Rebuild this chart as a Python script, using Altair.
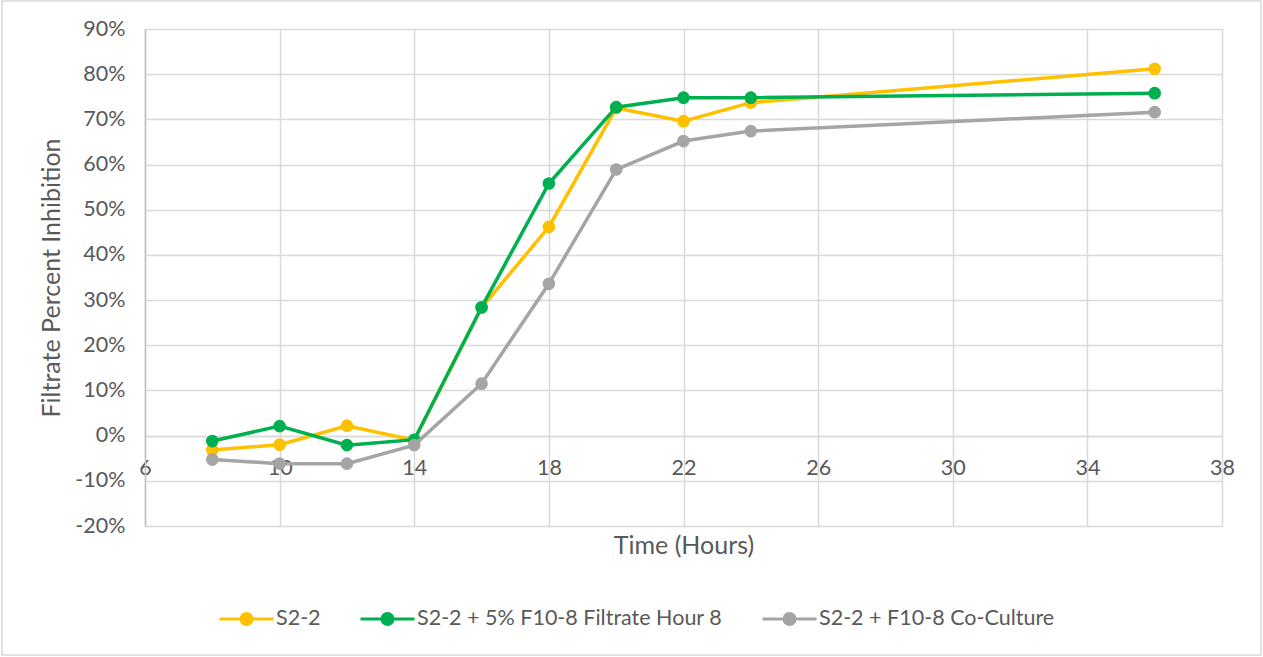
import altair as alt
import pandas as pd

hours = [8, 10, 12, 14, 16, 18, 20, 22, 24, 36]
s22 = [-0.032, -0.020, 0.022, -0.010, 0.283, 0.462, 0.725, 0.696, 0.737, 0.812]
s22_filtrate = [-0.012, 0.021, -0.021, -0.009, 0.284, 0.558, 0.727, 0.748, 0.748, 0.758]
s22_coculture = [-0.053, -0.062, -0.062, -0.021, 0.115, 0.336, 0.589, 0.652, 0.674, 0.716]

series_names = ["S2-2", "S2-2 + 5% F10-8 Filtrate Hour 8", "S2-2 + F10-8 Co-Culture"]
series_values = [s22, s22_filtrate, s22_coculture]
series_colors = ["#FFC000", "#00B050", "#A5A5A5"]

x_ticks = [6, 10, 14, 18, 22, 26, 30, 34, 38]
y_ticks = [-0.2, -0.1, 0.0, 0.1, 0.2, 0.3, 0.4, 0.5, 0.6, 0.7, 0.8, 0.9]

FONT = "Lato"
TXT = "#595959"
W, H = 1077, 497
LABEL_SIZE = 21.5
TITLE_SIZE = 25

frames = []
for name, vals in zip(series_names, series_values):
    frames.append(pd.DataFrame({"hour": hours, "value": vals, "series": name}))
df = pd.concat(frames, ignore_index=True)

color = alt.Color(
    "series:N",
    scale=alt.Scale(domain=series_names, range=series_colors),
    legend=alt.Legend(
        title=None,
        orient="none",
        direction="horizontal",
        columns=3,
        legendX=73,
        legendY=561,
        padding=0,
        columnPadding=33,
        labelOffset=1,
        labelFont=FONT,
        labelFontSize=LABEL_SIZE,
        labelColor=TXT,
        labelLimit=400,
        symbolSize=2916,
        symbolStrokeWidth=3,
        symbolOpacity=1,
        symbolType=(
            "M-1,0L1,0"
            "M-0.204,0a0.204,0.204 0 1,0 0.408,0a0.204,0.204 0 1,0 -0.408,0"
            "M-0.093,0a0.093,0.093 0 1,0 0.186,0a0.093,0.093 0 1,0 -0.186,0"
            "M-0.03,0a0.03,0.03 0 1,0 0.06,0a0.03,0.03 0 1,0 -0.06,0"
        ),
    ),
)

x_enc = alt.X(
    "hour:Q",
    scale=alt.Scale(domain=[6, 38], nice=False, zero=False),
    axis=alt.Axis(
        values=x_ticks,
        title="Time (Hours)",
        offset=-90,
        labelPadding=21,
        titlePadding=55,
        labelFlush=False,
        labelOverlap=False,
        ticks=False,
        domain=True,
        domainColor="#D9D9D9",
        domainWidth=1.5,
        grid=True,
        gridColor="#D9D9D9",
        gridWidth=1.5,
        labelFont=FONT,
        labelFontSize=LABEL_SIZE,
        labelColor=TXT,
        titleFont=FONT,
        titleFontSize=TITLE_SIZE,
        titleFontWeight="normal",
        titleColor=TXT,
    ),
)
y_enc = alt.Y(
    "value:Q",
    scale=alt.Scale(domain=[-0.2, 0.9], nice=False, zero=False),
    axis=alt.Axis(
        values=y_ticks,
        format=".0%",
        labelExpr="replace(datum.label, '\u2212', '-')",
        title="Filtrate Percent Inhibition",
        titlePadding=10,
        labelPadding=20,
        labelFlush=False,
        labelOverlap=False,
        ticks=False,
        domain=True,
        domainColor="#BFBFBF",
        domainWidth=1.5,
        grid=True,
        gridColor="#D9D9D9",
        gridWidth=1.5,
        labelFont=FONT,
        labelFontSize=LABEL_SIZE,
        labelColor=TXT,
        titleFont=FONT,
        titleFontSize=TITLE_SIZE,
        titleFontWeight="normal",
        titleColor=TXT,
    ),
)

layers = []
for name in series_names:
    sub = alt.Chart(df).transform_filter(alt.datum.series == name)
    layers.append(sub.mark_line(strokeWidth=3.5).encode(x=x_enc, y=y_enc, color=color))
    layers.append(
        sub.mark_point(filled=True, size=160, opacity=1, shape="circle").encode(
            x=x_enc, y=y_enc, color=color
        )
    )

border = alt.Chart(pd.DataFrame({"a": [0]})).mark_rect(
    fill=None, stroke="#D9D9D9", strokeWidth=1.5
).encode(
    x=alt.value(-143), x2=alt.value(W + 39),
    y=alt.value(-28), y2=alt.value(H + 129),
)

chart = alt.layer(border, *layers).properties(
    width=W,
    height=H,
    autosize=alt.AutoSizeParams(type="none"),
    padding={"left": 145, "top": 29, "right": 41, "bottom": 131},
    background="white",
).configure_view(stroke=None)

chart.save("out.html", embed_options={"renderer": "svg", "actions": False})
